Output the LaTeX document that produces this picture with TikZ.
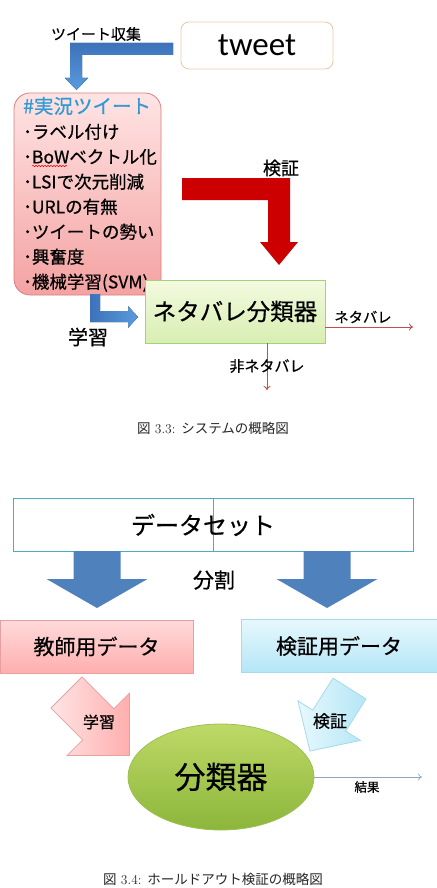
\documentclass[tikz,border=0pt]{standalone}
\usepackage{fontspec}
\newfontfamily\jp[FakeBold=0.6]{Noto Sans CJK JP}
\newfontfamily\jpcap{Noto Sans CJK JP}
\newfontfamily\tweetfont{Carlito}
\usepackage{tikz}
\usetikzlibrary{positioning,calc,arrows.meta,shapes.geometric,decorations.pathmorphing}

\definecolor{tweetline}{HTML}{E6C9A3}
\definecolor{pinktop}{HTML}{FFE4E4}
\definecolor{pinkbot}{HTML}{F4A2A2}
\definecolor{pinkline}{HTML}{D97E80}
\definecolor{titleblue}{HTML}{2F9AD6}
\definecolor{greentop}{HTML}{F3FADF}
\definecolor{greenbot}{HTML}{D8EEB2}
\definecolor{greenline}{HTML}{A8CF7A}
\definecolor{bendblue}{HTML}{3C72BA}
\definecolor{bendbluelight}{HTML}{5A9BDC}
\definecolor{verifyred}{HTML}{CC0000}
\definecolor{outred}{HTML}{C0504D}
\definecolor{dataline}{HTML}{4BACC6}
\definecolor{splitblue}{HTML}{4F81BD}
\definecolor{traintop}{HTML}{FFDADA}
\definecolor{trainbot}{HTML}{FFAEAE}
\definecolor{trainline}{HTML}{E6A0A0}
\definecolor{testtop}{HTML}{E7F8FD}
\definecolor{testbot}{HTML}{B4E6F6}
\definecolor{testline}{HTML}{A6D9EA}
\definecolor{elltop}{HTML}{BED966}
\definecolor{ellbot}{HTML}{8CB63B}
\definecolor{ellline}{HTML}{9DC052}
\definecolor{resultline}{HTML}{8EA4C0}

\newcommand{\jsize}[1]{\jp\fontsize{#1}{#1}\selectfont}

\begin{document}
\begin{tikzpicture}[x=1pt, y=-1pt,
  lbl/.style={inner sep=0pt, font=\jsize{15}},
  flatbox/.style={minimum height=53pt, inner sep=0pt},
  caption/.style={inner sep=0pt, text=black!85, font=\fontsize{13.5}{13.5}\selectfont},
  outarrow/.style={outred, line width=0.9pt, -{To[length=4pt,width=7pt]}}
]
  \useasboundingbox (0,0) rectangle (436,888);

  % --- system overview ---
  \node[draw=tweetline, line width=0.8pt, rounded corners=8pt, minimum width=152pt,
        minimum height=47pt, inner sep=0pt, font=\tweetfont\fontsize{33}{33}\selectfont]
        (tweet) at (257,45.5) {tweet};
  \node[lbl] (collect) at (96,34) {ツイート収集};
  \fill[left color=bendblue, right color=bendbluelight, shading angle=0]
    (173,43) -- (70,43) -- (70,78) -- (65,78) -- (76.5,90) -- (88,78)
    -- (82,78) -- (82,55) -- (173,55) -- cycle;

  \node[draw=pinkline, line width=0.8pt, top color=pinktop, bottom color=pinkbot,
        rounded corners=16pt, minimum width=147pt, minimum height=202pt]
        (feat) at (87.5,194) {};
  \node[anchor=west, align=left, inner sep=0pt, font=\jp\fontsize{17.5}{25}\selectfont]
        (featText) at (23,194.4)
        {{\fontsize{19.5}{25}\selectfont\color{titleblue}\#実況ツイート}\\
         ･ラベル付け\\ ･BoWベクトル化\\ ･LSIで次元削減\\ ･URLの有無\\
         ･ツイートの勢い\\ ･興奮度\\ ･機械学習(SVM)};
  \draw[red, line width=0.5pt, decorate,
        decoration={snake, amplitude=0.7pt, segment length=3pt}] (32,166) -- (67,166);

  \node[lbl, font=\jsize{18}] (verify) at (281,168) {検証};
  \fill[verifyred]
    (182,178) -- (290,178) -- (290,242) -- (298,242) -- (279,265) -- (260,242)
    -- (268,242) -- (268,200) -- (182,200) -- cycle;

  \node[draw=greenline, line width=0.8pt, top color=greentop, bottom color=greenbot,
        minimum width=180pt, minimum height=63pt, font=\jsize{23.5}]
        (spoilclf) at (235,311.5) {ネタバレ分類器};
  \fill[left color=bendblue, right color=bendbluelight]
    (90,294) -- (100,294) -- (100,311) -- (128,311) -- (128,306) -- (138,317)
    -- (128,328) -- (128,322) -- (90,322) -- cycle;
  \node[lbl, font=\jsize{20}] (learn) at (88,337) {学習};

  \coordinate (spoilEnd) at (413,327);
  \coordinate (nonEnd) at (267,390);
  \draw[outarrow] (spoilclf.east |- spoilEnd) -- (spoilEnd);
  \draw[outarrow] (spoilclf.south -| nonEnd) -- (nonEnd);
  \node[lbl, font=\jsize{14.3}] (spoil) at (363,317) {ネタバレ};
  \node[lbl] (nonspoil) at (267,366) {非ネタバレ};

  \node[caption] (cap1) at (213,428) {{\jpcap 図} 3.3: {\jpcap システムの概略図}};

  % --- holdout validation ---
  \node[draw=dataline, line width=1pt, minimum width=400pt, flatbox]
        (dataset) at (213,524.5) {};
  \draw[dataline, line width=1pt] (dataset.north) -- (dataset.south);
  \node[lbl, font=\jsize{24}] (datasetText) at (203,525) {データセット};

  \foreach \cx in {97,327}
    \fill[splitblue] (\cx-23.5,551) -- (\cx+23.5,551) -- (\cx+23.5,579)
      -- (\cx+50.5,579) -- (\cx,608) -- (\cx-50.5,579) -- (\cx-23.5,579) -- cycle;
  \node[lbl, font=\jsize{21}] (split) at (214,580) {分割};

  \node[draw=trainline, line width=0.8pt, top color=traintop, bottom color=trainbot,
        minimum width=193pt, flatbox, font=\jsize{21}] (train) at (96.5,646.5) {教師用データ};
  \node[draw=testline, line width=0.8pt, top color=testtop, bottom color=testbot,
        minimum width=196pt, flatbox, font=\jsize{21}] (test) at (339,646) {検証用データ};

  \begin{scope}[shift={(66.5,692.5)}, rotate=-45]
    \draw[trainline, line width=0.8pt, left color=traintop!70!white, right color=trainbot]
      (0,-22) -- (45,-22) -- (45,-44) -- (89,0) -- (45,44) -- (45,22) -- (0,22) -- cycle;
  \end{scope}
  \begin{scope}[shift={(349.5,688.5)}, rotate=-122.3]
    \draw[testline, line width=0.8pt, left color=testtop, right color=testbot]
      (0,-19.5) -- (38,-19.5) -- (38,-37) -- (74,0) -- (38,37) -- (38,19.5) -- (0,19.5) -- cycle;
  \end{scope}
  \node[lbl, font=\jsize{16}] (trainLearn) at (99,722) {学習};
  \node[lbl, font=\jsize{17}] (testVerify) at (330,721) {検証};

  \node[ellipse, draw=ellline, line width=0.8pt, top color=elltop, bottom color=ellbot,
        minimum width=186pt, minimum height=106pt, inner sep=0pt, font=\jsize{31}]
        (model) at (221,777) {分類器};
  \coordinate (resultEnd) at (422,777);
  \draw[resultline, line width=0.7pt, -{To[length=4pt,width=7pt]}] (model.east) -- (resultEnd);
  \node[lbl, font=\jsize{12.5}] (result) at (367,787) {結果};

  \node[caption] (cap2) at (213,879.5) {{\jpcap 図} 3.4: {\jpcap ホールドアウト検証の概略図}};
\end{tikzpicture}
\end{document}
